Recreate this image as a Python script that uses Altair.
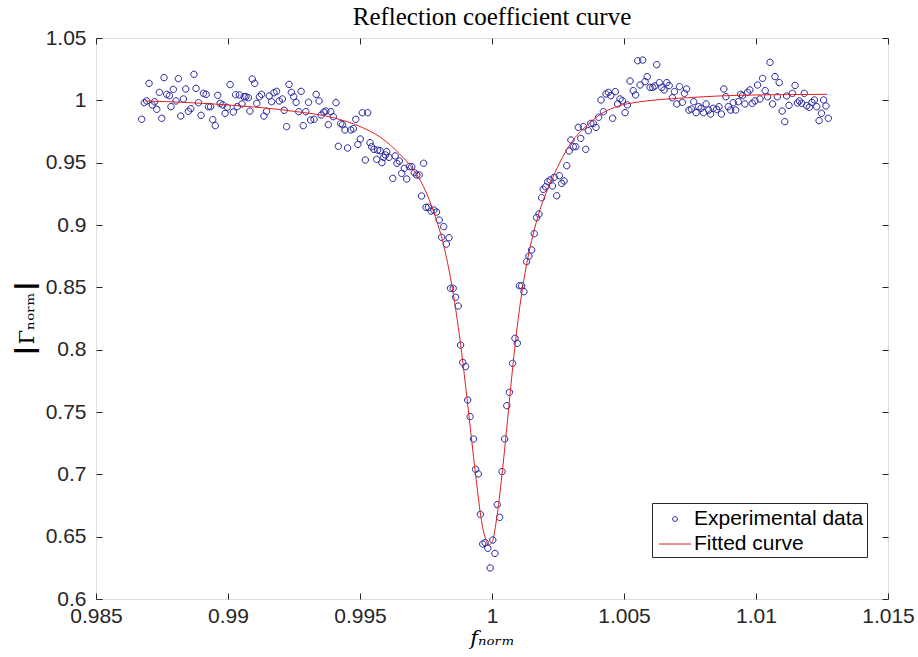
import altair as alt
import pandas as pd

# ---------------- data ----------------
series_names = ["Experimental data", "Fitted curve"]

f_exp = [
    0.98673, 0.98683, 0.98692, 0.98701, 0.98713, 0.98722, 0.98730, 0.98740, 0.98749, 0.98758,
    0.98768, 0.98778, 0.98784, 0.98793, 0.98803, 0.98812, 0.98821, 0.98831, 0.98840, 0.98850,
    0.98859, 0.98871, 0.98879, 0.98888, 0.98898, 0.98907, 0.98917, 0.98926, 0.98934, 0.98942,
    0.98952, 0.98961, 0.98970, 0.98980, 0.98989, 0.98997, 0.99008, 0.99020, 0.99029, 0.99035,
    0.99043, 0.99053, 0.99061, 0.99068, 0.99077, 0.99083, 0.99092, 0.99101, 0.99109, 0.99119,
    0.99127, 0.99136, 0.99146, 0.99156, 0.99165, 0.99174, 0.99184, 0.99194, 0.99206, 0.99213,
    0.99222, 0.99231, 0.99240, 0.99249, 0.99258, 0.99268, 0.99277, 0.99285, 0.99295, 0.99305,
    0.99313, 0.99326, 0.99334, 0.99345, 0.99353, 0.99363, 0.99371, 0.99380, 0.99389, 0.99399,
    0.99409, 0.99418, 0.99427, 0.99434, 0.99443, 0.99453, 0.99465, 0.99475, 0.99484, 0.99492,
    0.99501,
    0.99509, 0.99529, 0.99520, 0.99538, 0.99544, 0.99553, 0.99563, 0.99567, 0.99576, 0.99583,
    0.99590, 0.99596, 0.99601, 0.99610, 0.99624, 0.99633, 0.99640, 0.99649, 0.99658, 0.99668,
    0.99677, 0.99687, 0.99696, 0.99706, 0.99715, 0.99724, 0.99733, 0.99741, 0.99750, 0.99759,
    0.99769, 0.99780, 0.99790, 0.99800, 0.99809, 0.99817, 0.99827, 0.99837, 0.99843, 0.99853,
    0.99862,
    0.99872, 0.99881, 0.99889, 0.99900, 0.99908, 0.99917, 0.99930, 0.99938, 0.99948, 0.99956,
    0.99965, 0.99974, 0.99984, 0.99993, 1.00003, 1.00011, 1.00020, 1.00029, 1.00038, 1.00048,
    1.00056, 1.00066, 1.00078, 1.00087, 1.00096, 1.00104, 1.00112, 1.00121, 1.00131, 1.00140,
    1.00150, 1.00160,
    1.00169, 1.00178, 1.00188, 1.00194, 1.00203, 1.00211, 1.00220, 1.00229, 1.00236, 1.00245,
    1.00255, 1.00264, 1.00273, 1.00283, 1.00292, 1.00299, 1.00308, 1.00317, 1.00327, 1.00336,
    1.00346, 1.00355, 1.00365, 1.00374, 1.00384, 1.00394, 1.00404, 1.00413, 1.00422, 1.00432,
    1.00441, 1.00450, 1.00457, 1.00467, 1.00476, 1.00485, 1.00494, 1.00504, 1.00513, 1.00523,
    1.00535, 1.00544, 1.00552, 1.00561, 1.00571, 1.00580, 1.00588, 1.00599, 1.00609, 1.00617,
    1.00624, 1.00634, 1.00643, 1.00652, 1.00662, 1.00671, 1.00683, 1.00691, 1.00700, 1.00710,
    1.00721, 1.00729, 1.00737, 1.00746, 1.00755, 1.00764, 1.00773, 1.00783, 1.00792, 1.00801,
    1.00811, 1.00821, 1.00828, 1.00838, 1.00851, 1.00860, 1.00869, 1.00878, 1.00886, 1.00895,
    1.00904, 1.00914, 1.00923, 1.00933, 1.00942, 1.00949, 1.00958, 1.00968, 1.00977, 1.00986,
    1.00996, 1.01006, 1.01015, 1.01025, 1.01035, 1.01044, 1.01053, 1.01063, 1.01072,
    1.01081, 1.01088, 1.01099, 1.01109, 1.01116, 1.01125, 1.01138, 1.01148, 1.01157, 1.01164,
    1.01173, 1.01183, 1.01192, 1.01202, 1.01212, 1.01221, 1.01230, 1.01239, 1.01248, 1.01256,
    1.01265, 1.01274,
]

g_exp = [
    0.9848, 0.9981, 0.9995, 1.0136, 0.9963, 0.9989, 0.9928, 1.0064, 0.9856, 1.0182,
    1.0048, 1.0037, 0.9949, 1.0088, 0.9995, 1.0174, 0.9874, 1.0011, 1.0091, 0.9912,
    0.9933, 1.0209, 1.0096, 0.9981, 0.9880, 1.0056, 1.0048, 0.9949, 0.9949, 0.9845,
    0.9797, 1.0040, 0.9976, 0.9963, 0.9896, 0.9944, 1.0126, 0.9906, 1.0045, 0.9949,
    1.0043, 0.9971, 1.0029, 1.0029, 1.0021, 0.9914, 1.0171, 1.0136, 0.9976, 1.0029,
    1.0048, 0.9874, 0.9912, 1.0035, 0.9989, 1.0061, 1.0072, 0.9995, 1.0011, 0.9920,
    0.9789, 1.0128, 1.0064, 1.0029, 0.9984, 0.9909, 1.0072, 0.9797, 0.9909, 0.9984,
    0.9842, 0.9848, 1.0048, 0.9995, 0.9882, 0.9906, 0.9914, 0.9805, 0.9909, 0.9869,
    0.9981, 0.9631, 0.9813, 0.9805, 0.9762, 0.9618, 0.9762, 0.9773, 0.9848, 0.9647,
    0.9690,
    0.9901, 0.9901, 0.9521, 0.9660, 0.9628, 0.9607, 0.9527, 0.9601, 0.9596, 0.9500,
    0.9543, 0.9562, 0.9588, 0.9543, 0.9374, 0.9554, 0.9495, 0.9513, 0.9414, 0.9455,
    0.9369, 0.9468, 0.9468, 0.9420, 0.9401, 0.9401, 0.9233, 0.9495, 0.9142, 0.9142,
    0.9112, 0.9120, 0.9104, 0.9040, 0.8901, 0.8987, 0.8847, 0.8898, 0.8492, 0.8492,
    0.8420,
    0.8350, 0.8037, 0.7898, 0.7864, 0.7596, 0.7463, 0.7283, 0.7040, 0.7003, 0.6679,
    0.6441, 0.6452, 0.6407, 0.6249, 0.6473, 0.6366, 0.6757, 0.6655, 0.7022, 0.7284,
    0.7551, 0.7658, 0.7890, 0.8091, 0.8051, 0.8513, 0.8513, 0.8465, 0.8706, 0.8751,
    0.8800, 0.8930,
    0.9059, 0.9088, 0.9219, 0.9286, 0.9307, 0.9347, 0.9361, 0.9313, 0.9382, 0.9235,
    0.9396, 0.9334, 0.9353, 0.9476, 0.9594, 0.9682, 0.9628, 0.9628, 0.9783, 0.9695,
    0.9789, 0.9607, 0.9757, 0.9815, 0.9815, 0.9783, 0.9864, 1.0003, 0.9909, 1.0051,
    1.0064, 1.0037, 0.9856, 1.0070, 0.9971, 1.0011, 0.9997, 0.9901, 0.9963, 1.0155,
    1.0078, 1.0043, 1.0318, 1.0123, 1.0323, 1.0150, 1.0190, 1.0104, 1.0104, 1.0115,
    1.0286, 1.0142, 1.0104, 1.0083, 1.0142, 1.0118, 1.0021, 1.0070, 0.9971, 1.0110,
    0.9984, 1.0056, 1.0091, 0.9922, 0.9930, 0.9989, 0.9901, 0.9949, 0.9936, 0.9901,
    0.9971, 0.9922, 0.9890, 0.9936, 0.9928, 0.9949, 0.9890, 1.0091, 1.0029, 0.9949,
    0.9922, 0.9981, 0.9922, 0.9989, 1.0048, 1.0037, 0.9971, 1.0064, 1.0083, 0.9976,
    0.9995, 1.0123, 1.0011, 1.0176, 1.0078, 1.0029, 1.0305, 0.9971, 1.0190,
    1.0029, 1.0142, 0.9914, 0.9829, 1.0035, 0.9960, 1.0056, 1.0120, 0.9979, 0.9995,
    0.9976, 1.0056, 0.9957, 0.9944, 0.9984, 1.0003, 0.9949, 0.9837, 0.9896, 1.0003,
    0.9955, 0.9856,
]

f_fit = [0.98686, 0.9885, 0.9905, 0.9925, 0.9940, 0.9950, 0.9958, 0.9965, 0.9970, 0.9974,
         0.9978, 0.9982, 0.9985, 0.9988, 0.9990, 0.9992, 0.9994, 0.9996, 0.9998, 0.9999,
         1.0000, 1.0002, 1.0004, 1.0006, 1.0008, 1.0010, 1.0012, 1.0014, 1.0016, 1.0018,
         1.0023, 1.0030, 1.0036, 1.0042, 1.0048, 1.0055, 1.0062, 1.0074, 1.0086, 1.0100,
         1.0127]
g_fit = [0.9995, 0.9982, 0.9955, 0.9912, 0.9860, 0.9790, 0.9700, 0.9570, 0.9450, 0.9310,
         0.9100, 0.8810, 0.8490, 0.8060, 0.7710, 0.7330, 0.6960, 0.6630, 0.6460, 0.6435,
         0.6455, 0.6680, 0.7040, 0.7460, 0.7890, 0.8260, 0.8550, 0.8780, 0.8960, 0.9110,
         0.9380, 0.9660, 0.9800, 0.9900, 0.9955, 0.9985, 1.0003, 1.0021, 1.0035, 1.0043,
         1.0048]

x_ticks = [0.985, 0.99, 0.995, 1.0, 1.005, 1.01, 1.015]
y_ticks = [0.6, 0.65, 0.7, 0.75, 0.8, 0.85, 0.9, 0.95, 1.0, 1.05]

exp_df = pd.DataFrame({"f": f_exp, "g": g_exp, "series": series_names[0]})
fit_df = pd.DataFrame({"f": f_fit, "g": g_fit, "series": series_names[1]})

# ---------------- styling ----------------
BLUE = "#22229e"
RED = "#e02020"
AX = "#262626"
CIRCLE = "M-0.19,0A0.19,0.19,0,1,0,0.19,0A0.19,0.19,0,1,0,-0.19,0Z"
LINE = "M-1.28,0H1.28"

xs = alt.Scale(domain=[0.985, 1.015], nice=False, zero=False)
ys = alt.Scale(domain=[0.6, 1.05], nice=False, zero=False)

legend = alt.Legend(
    title=None, orient="none", legendX=556, legendY=465, padding=3,
    strokeColor=AX, fillColor="white", cornerRadius=0,
    labelFont="Liberation Sans", labelFontSize=21, labelColor="black",
    labelLimit=400, labelOffset=6, symbolOffset=7, symbolSize=625,
    symbolStrokeWidth=1, rowPadding=2,
)
color = alt.Color("series:N", scale=alt.Scale(domain=series_names, range=[BLUE, RED]), legend=legend)
shape = alt.Shape("series:N", scale=alt.Scale(domain=series_names, range=[CIRCLE, LINE]), legend=legend)

lab_common = dict(labelFont="Liberation Sans", labelFontSize=21, labelColor=AX,
                  labelFlush=False, labelOverlap=False, ticks=False, domain=False,
                  grid=False, format="~g")

x_label_axis = alt.Axis(orient="bottom", values=x_ticks, labelPadding=6,
                        title="fₙₒᵣₘ", titleFont="DejaVu Serif", titleFontStyle="italic",
                        titleFontWeight="normal", titleFontSize=21, titleColor="black",
                        titleY=45, titleBaseline="alphabetic", **lab_common)
y_label_axis = alt.Axis(orient="left", values=y_ticks, labelPadding=10,
                        title="┃Γₙₒᵣₘ┃", titleFont="DejaVu Serif", titleFontWeight="normal",
                        titleFontSize=21, titleColor="black", titleAngle=270,
                        titleX=-69, titleY=280, titleAlign="center", titleBaseline="middle",
                        **lab_common)

def tick_axis(orient, vals):
    return alt.Axis(orient=orient, values=vals, labels=False, domain=False, grid=False,
                    ticks=True, tickSize=6, offset=-6, tickColor=AX, tickWidth=1, title=None)

pts = alt.Chart(exp_df).mark_point(filled=False, strokeWidth=1, size=1130, opacity=1).encode(
    x=alt.X("f:Q", scale=xs, axis=x_label_axis),
    y=alt.Y("g:Q", scale=ys, axis=y_label_axis),
    color=color,
    shape=shape,
)

fit = alt.Chart(fit_df).mark_line(strokeWidth=1, interpolate="monotone").encode(
    x=alt.X("f:Q", scale=xs, axis=tick_axis("bottom", x_ticks)),
    y=alt.Y("g:Q", scale=ys, axis=tick_axis("left", y_ticks)),
    color=color,
)

ghost = alt.Chart(fit_df).mark_point(opacity=0).encode(
    x=alt.X("f:Q", scale=xs, axis=tick_axis("top", x_ticks)),
    y=alt.Y("g:Q", scale=ys, axis=tick_axis("right", y_ticks)),
)

chart = alt.layer(pts, fit, ghost).resolve_axis(
    x="independent", y="independent"
).properties(
    width=792, height=561,
    padding={"left": 96, "top": 38, "right": 30, "bottom": 58},
    autosize=alt.AutoSizeParams(type="none"),
    title=alt.TitleParams("Reflection coefficient curve", font="Liberation Serif",
                          fontSize=25, fontWeight="normal", color="black",
                          anchor="middle", offset=-3),
).configure_view(stroke=AX, strokeWidth=1).configure(background="white")

chart.save("out.html", embed_options={"renderer": "svg", "actions": False})
